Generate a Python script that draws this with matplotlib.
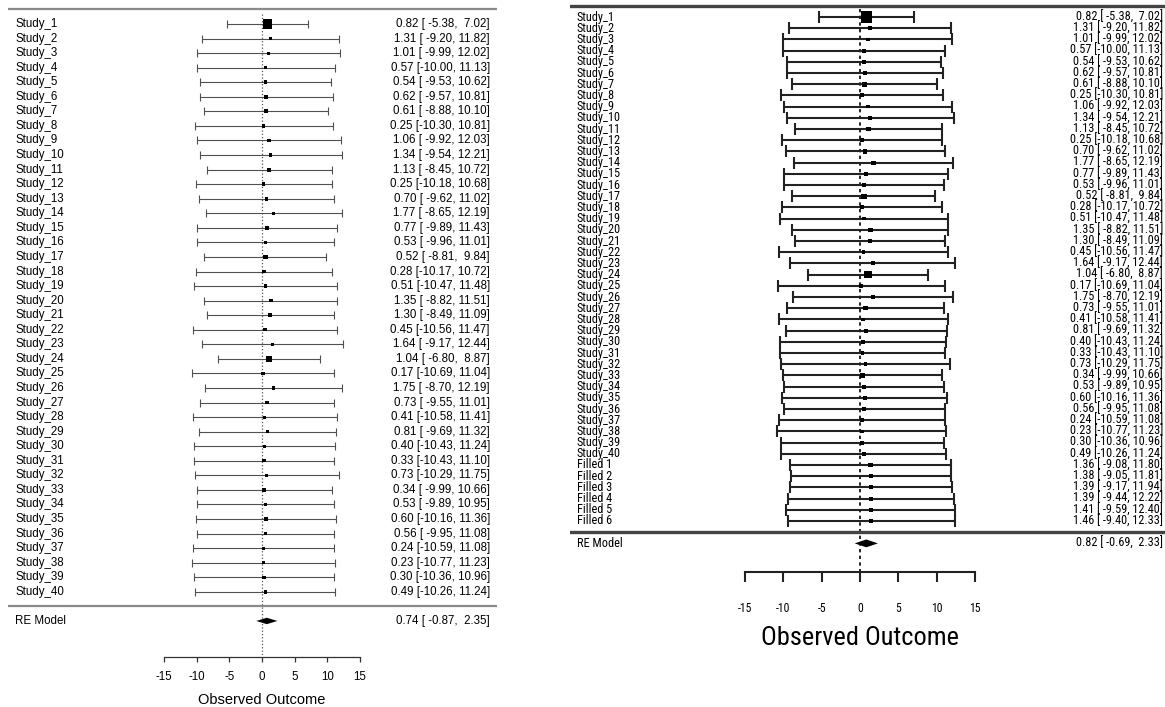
import numpy as np
import matplotlib
matplotlib.use("Agg")
import matplotlib.pyplot as plt
from matplotlib import font_manager

# study data
studies = ["Study_%d" % i for i in range(1, 41)]
est = [0.82, 1.31, 1.01, 0.57, 0.54, 0.62, 0.61, 0.25, 1.06, 1.34,
       1.13, 0.25, 0.70, 1.77, 0.77, 0.53, 0.52, 0.28, 0.51, 1.35,
       1.30, 0.45, 1.64, 1.04, 0.17, 1.75, 0.73, 0.41, 0.81, 0.40,
       0.33, 0.73, 0.34, 0.53, 0.60, 0.56, 0.24, 0.23, 0.30, 0.49]
lower = [-5.38, -9.20, -9.99, -10.00, -9.53, -9.57, -8.88, -10.30, -9.92, -9.54,
         -8.45, -10.18, -9.62, -8.65, -9.89, -9.96, -8.81, -10.17, -10.47, -8.82,
         -8.49, -10.56, -9.17, -6.80, -10.69, -8.70, -9.55, -10.58, -9.69, -10.43,
         -10.43, -10.29, -9.99, -9.89, -10.16, -9.95, -10.59, -10.77, -10.36, -10.26]
upper = [7.02, 11.82, 12.02, 11.13, 10.62, 10.81, 10.10, 10.81, 12.03, 12.21,
         10.72, 10.68, 11.02, 12.19, 11.43, 11.01, 9.84, 10.72, 11.48, 11.51,
         11.09, 11.47, 12.44, 8.87, 11.04, 12.19, 11.01, 11.41, 11.32, 11.24,
         11.10, 11.75, 10.66, 10.95, 11.36, 11.08, 11.08, 11.23, 10.96, 11.24]

# trim-and-fill studies (right plot only)
filled = ["Filled %d" % i for i in range(1, 7)]
filled_est = [1.36, 1.38, 1.39, 1.39, 1.41, 1.46]
filled_lower = [-9.08, -9.05, -9.17, -9.44, -9.59, -9.40]
filled_upper = [11.80, 11.81, 11.94, 12.22, 12.40, 12.33]

# RE model summaries
re_left = (0.74, -0.87, 2.35)
re_right = (0.82, -0.69, 2.33)

ticks = [-15, -10, -5, 0, 5, 10, 15]


def regular_font():
    have = {f.name for f in font_manager.fontManager.ttflist}
    for n in ["Liberation Sans", "Arial"]:
        if n in have:
            return n
    return "DejaVu Sans"


def narrow_font():
    # the right plot was drawn with a condensed font; look for one
    fl = font_manager.fontManager.ttflist
    wanted = ["liberation sans narrow", "arial narrow", "roboto condensed",
              "open sans condensed", "dejavu sans condensed"]
    for w in wanted:
        for f in fl:
            if f.style != "normal" or f.weight not in (400, "normal", "regular"):
                continue
            if w in f.name.lower() or (w.replace(" condensed", "") == f.name.lower()
                                       and "condensed" in str(f.stretch)):
                return f.fname
    return None


REG = regular_font()
NARROW = narrow_font()


def fprops(which, size):
    if which == "narrow" and NARROW:
        return font_manager.FontProperties(fname=NARROW, size=size)
    return font_manager.FontProperties(family=REG, size=size)


def ci_text(e, l, u):
    return "%.2f [%6.2f, %5.2f]" % (e, l, u)


def draw_panel(ax, labels, e, l, u, re, st):
    k = len(labels)
    rows = np.arange(1, k + 1)
    e, l, u = np.array(e), np.array(l), np.array(u)

    # square size from inverse-variance weights (like metafor psize)
    vi = ((u - l) / 3.92) ** 2
    wi = 1 / vi
    ps = (wi - wi.min()) / (wi.max() - wi.min()) + 0.5

    ax.set_xlim(st["xlim"])
    ax.set_ylim(st["ylim"])
    ax.axis("off")

    # top and separator lines
    for y in [0, k + 1]:
        ax.plot(st["line_x"], [y, y], color=st["hcol"], lw=st["hlw"],
                solid_capstyle="butt")

    # reference line at 0
    ax.plot([0, 0], [0.3, k + st["axis_y"]], color=st["refcol"],
            lw=st["reflw"], ls=st["refls"], zorder=1)

    ax.errorbar(e, rows, xerr=[e - l, u - e], fmt="none", ecolor=st["ecol"],
                elinewidth=st["elw"], capsize=st["cap"], capthick=st["elw"])
    ax.scatter(e, rows, marker="s", s=(ps * st["sq"]) ** 2, color="black",
               linewidths=0, zorder=3)

    fp = fprops(st["font"], st["fs"])
    for r, lab, a, b, c in zip(rows, labels, e, l, u):
        ax.text(st["lab_x"], r, lab, ha="left", va="center", fontproperties=fp)
        ax.text(st["txt_x"], r, ci_text(a, b, c), ha="right", va="center",
                fontproperties=fp)

    # summary diamond
    m, rl, ru = re
    yr = k + 2
    h = st["dia_h"]
    ax.fill([rl, m, ru, m], [yr, yr - h, yr, yr + h], color="black", lw=0)
    ax.text(st["lab_x"], yr, "RE Model", ha="left", va="center", fontproperties=fp)
    ax.text(st["txt_x"], yr, ci_text(m, rl, ru), ha="right", va="center",
            fontproperties=fp)

    # x axis
    ya = k + st["axis_y"]
    yt = k + st["tick_y"]
    ax.plot([ticks[0], ticks[-1]], [ya, ya], color=st["axcol"], lw=st["axlw"])
    ax.vlines(ticks, ya, yt, color=st["axcol"], lw=st["axlw"])
    tp = fprops(st["font"], st["tfs"])
    for t in ticks:
        ax.text(t, k + st["tlab_y"], str(t), ha="center", va="center",
                fontproperties=tp)
    ax.text(0, k + st["xlab_y"], "Observed Outcome", ha="center", va="center",
            fontproperties=fprops(st["font"], st["xfs"]))


fig = plt.figure(figsize=(11.65, 7.07), dpi=100)

# left panel: 40 studies
axL = fig.add_axes([0, 0, 570 / 1165, 1])
left_style = dict(
    xlim=(-262 / 6.53, (570 - 262) / 6.53),
    ylim=(1 + (707 - 24) / 14.56, 1 - 24 / 14.56),
    line_x=[-38.9, 36.0], hcol="#8a8a8a", hlw=1.6,
    refcol="#555555", reflw=0.9, refls=":",
    ecol="#505050", elw=0.8, cap=2.6, sq=4.6,
    font="regular", fs=8.3, tfs=8.3, xfs=10.5,
    lab_x=-37.8, txt_x=34.9, dia_h=0.22,
    axis_y=4.45, tick_y=4.85, tlab_y=5.85, xlab_y=7.45,
    axcol="#333333", axlw=0.9,
)
draw_panel(axL, studies, est, lower, upper, re_left, left_style)

# right panel: 40 studies + 6 filled
axR = fig.add_axes([570 / 1165, 0, 595 / 1165, 1])
right_style = dict(
    xlim=((570 - 860) / 7.67, (1165 - 860) / 7.67),
    ylim=(1 + (707 - 17) / 11.2, 1 - 17 / 11.2),
    line_x=[-37.9, 39.8], hcol="#444444", hlw=2.4,
    refcol="black", reflw=1.2, refls=(0, (2, 2)),
    ecol="#222222", elw=1.5, cap=4.5, sq=5.4,
    font="narrow", fs=8.8, tfs=8.5, xfs=19,
    lab_x=-36.9, txt_x=39.5, dia_h=0.35,
    axis_y=4.55, tick_y=5.45, tlab_y=7.85, xlab_y=10.45,
    axcol="#222222", axlw=1.5,
)
draw_panel(axR, studies + filled, est + filled_est, lower + filled_lower,
           upper + filled_upper, re_right, right_style)

fig.savefig("out.png", dpi=100)
